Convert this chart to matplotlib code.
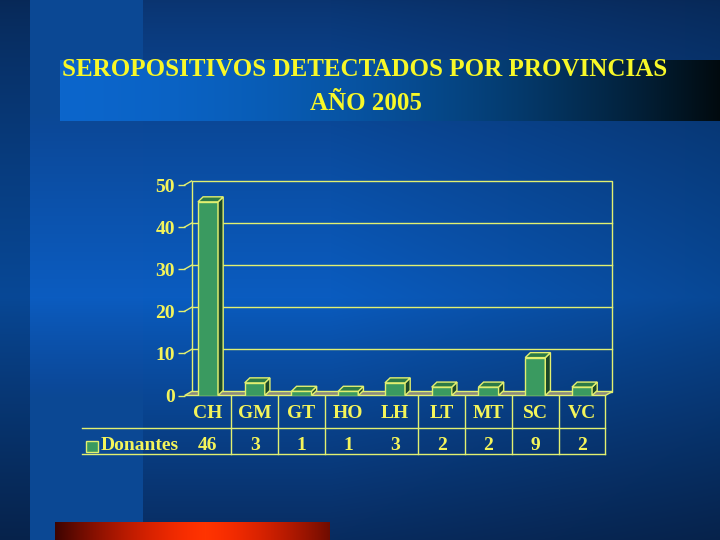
import matplotlib
matplotlib.use("Agg")
from matplotlib import pyplot as plt
from matplotlib.patches import Polygon, Rectangle
import numpy as np

# data
categories = ['CH', 'GM', 'GT', 'HO', 'LH', 'LT', 'MT', 'SC', 'VC']
donantes = [46, 3, 1, 1, 3, 2, 2, 9, 2]
series_name = 'Donantes'
yticks = [0, 10, 20, 30, 40, 50]
title_lines = ['SEROPOSITIVOS DETECTADOS POR PROVINCIAS', 'AÑO 2005']

plt.rcParams['font.family'] = ['Liberation Serif', 'DejaVu Serif']
plt.rcParams['font.weight'] = 'bold'

W, H = 720, 540
YEL = '#f4f45a'
LINE = '#e2f070'
TITLE = '#f8f828'

fig = plt.figure(figsize=(7.2, 5.4), dpi=100)

# ---- slide background ----
bg = fig.add_axes([0, 0, 1, 1])
bg.set_xlim(0, W)
bg.set_ylim(H, 0)
bg.axis('off')

yy, xx = np.mgrid[0:H, 0:W].astype(float)
top = np.array([10, 52, 112])
mid = np.array([10, 92, 192])
bot = np.array([8, 44, 96])
t = yy / H
f_up = np.clip(t / 0.55, 0, 1)
f_dn = np.clip((t - 0.55) / 0.45, 0, 1)
img = np.zeros((H, W, 3))
for k in range(3):
    v = np.where(t < 0.55, top[k] + (mid[k] - top[k]) * f_up ** 0.8,
                 mid[k] + (bot[k] - mid[k]) * f_dn ** 0.9)
    img[..., k] = v
# darker towards the right
img *= (1.0 - 0.22 * np.clip((xx - 330) / 390, 0, 1))[..., None]
# light left stripe
stripe = (xx >= 30) & (xx < 143)
img[stripe] = np.maximum(img[stripe], np.array([11, 72, 148]))
# dark left edge
img[xx < 30] *= 0.78
# title band
band = (xx >= 60) & (yy >= 60) & (yy < 121)
s = np.clip((xx - 60) / 660, 0, 1)
bc = np.stack([12 - 11 * s, 102 - 12 * s - 80 * s ** 2.2, 204 - 20 * s - 170 * s ** 2.0], axis=-1)
img[band] = bc[band]
# red bar at bottom
red = (xx >= 55) & (xx < 330) & (yy >= 522)
r = np.abs(xx - 205) / 125
rc = np.stack([255 - 145 * r ** 1.6, 52 - 40 * r, 0 * r], axis=-1)
img[red] = rc[red]
bg.imshow(np.clip(img, 0, 255).astype(np.uint8), extent=(0, W, H, 0), aspect='auto')

bg.text(365, 69, title_lines[0], color=TITLE, fontsize=18, ha='center', va='center')
bg.text(366, 104, title_lines[1], color=TITLE, fontsize=18, ha='center', va='center')

# ---- chart ----
x0px, x1px = 184.6, 605.4
y0px, y1px = 395.5, 185.0
ax = fig.add_axes([x0px / W, 1 - y0px / H, (x1px - x0px) / W, (y0px - y1px) / H])
ax.patch.set_alpha(0)
n = len(categories)
ax.set_xlim(-0.5, n - 0.5)
ax.set_ylim(0, 50)
for sp in ax.spines.values():
    sp.set_visible(False)

wdx, wdy = 0.15, 0.95   # wall depth
bdx, bdy = 0.11, 1.19   # bar depth
lw = 1.0

# back wall + gridlines
xl, xr = -0.5 + wdx, n - 0.5 + wdx
ax.add_patch(Rectangle((xl, wdy), xr - xl, 50, fill=False, ec=LINE, lw=lw, clip_on=False))
for v in yticks:
    if 0 < v < 50:
        ax.plot([xl, xr], [v + wdy, v + wdy], color=LINE, lw=lw, clip_on=False)
    if v > 0:
        ax.plot([-0.5, xl], [v, v + wdy], color=LINE, lw=lw, clip_on=False)

# floor
ax.add_patch(Polygon([(-0.5, 0), (n - 0.5, 0), (n - 0.5 + wdx, wdy), (-0.5 + wdx, wdy)],
                     closed=True, fc='#8a8a80', ec=LINE, lw=lw, clip_on=False))

# bars
xs = np.arange(n)
bw = 0.43
ax.bar(xs, donantes, width=bw, color='#3a9a60', edgecolor=LINE, linewidth=lw, zorder=3)
for c, v in zip(xs, donantes):
    xa, xb = c - bw / 2, c + bw / 2
    ax.add_patch(Polygon([(xb, 0), (xb + bdx, bdy), (xb + bdx, v + bdy), (xb, v)], closed=True,
                         fc='#1b4828', ec=LINE, lw=lw, zorder=3, clip_on=False))
    ax.add_patch(Polygon([(xa, v), (xb, v), (xb + bdx, v + bdy), (xa + bdx, v + bdy)], closed=True,
                         fc='#2c7a46', ec=LINE, lw=lw, zorder=3, clip_on=False))

ax.set_yticks(yticks)
ax.set_yticklabels([str(v) for v in yticks])
ax.tick_params(axis='y', colors=LINE, labelcolor=YEL, length=5, width=lw, labelsize=14, pad=2)
ax.set_xticks(xs)
ax.set_xticklabels(categories)
ax.tick_params(axis='x', length=0, labelcolor=YEL, labelsize=14, pad=6.5)

# data table under the chart
def fy(py):
    return 1 - py / H

tr = matplotlib.transforms.blended_transform_factory(ax.transData, fig.transFigure)
for b in np.arange(0.5, n, 1.0):
    if b == 3.5:
        continue
    ax.plot([b, b], [fy(396), fy(454)], color=LINE, lw=lw, transform=tr, clip_on=False)
for py in (428, 454):
    fig.add_artist(plt.Line2D([82 / W, x1px / W], [fy(py), fy(py)], color=LINE, lw=lw))
for c, v in zip(xs, donantes):
    ax.text(c, fy(445), str(v), transform=tr, color=YEL, fontsize=14, ha='center', va='center')
fig.add_artist(Rectangle((86 / W, fy(452)), 12 / W, 11 / H, fc='#3a9a60', ec=LINE, lw=lw))
fig.text(101 / W, fy(445), series_name, color=YEL, fontsize=14, ha='left', va='center')

fig.savefig('out.png', dpi=100)
